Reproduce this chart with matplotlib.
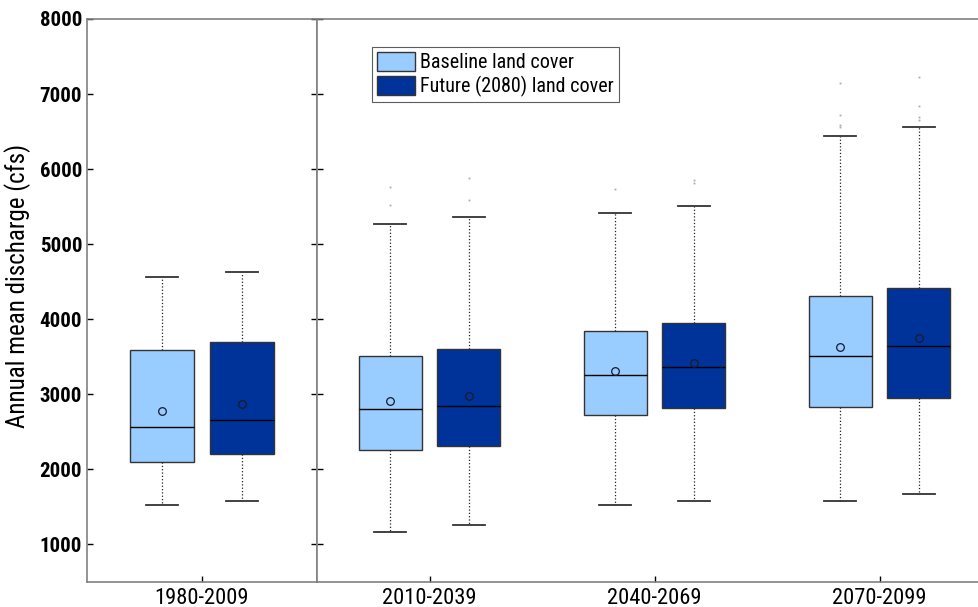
import matplotlib.pyplot as plt
from matplotlib import font_manager
from matplotlib.patches import Patch

# annual mean discharge (cfs) box statistics per 30-year period
periods = ['1980-2009', '2010-2039', '2040-2069', '2070-2099']

base_lo = [1520, 1170, 1520, 1575]
base_q1 = [2105, 2255, 2720, 2825]
base_med = [2570, 2805, 3260, 3515]
base_q3 = [3585, 3510, 3840, 4305]
base_hi = [4560, 5275, 5420, 6440]
base_mean = [2775, 2905, 3305, 3630]
base_out = [[], [5520, 5760], [5740], [6560, 6585, 6720, 7145]]

fut_lo = [1580, 1255, 1580, 1675]
fut_q1 = [2205, 2315, 2815, 2955]
fut_med = [2660, 2850, 3365, 3650]
fut_q3 = [3700, 3605, 3945, 4410]
fut_hi = [4635, 5365, 5505, 6555]
fut_mean = [2870, 2980, 3415, 3750]
fut_out = [[], [5590, 5880], [5820, 5855], [6655, 6690, 6845, 7225]]

light = '#99ccff'
dark = '#003399'

# prefer a narrow sans if one is installed
fonts = font_manager.fontManager.ttflist
names = {f.name for f in fonts}
narrow = None
for n in ['Roboto Condensed', 'Liberation Sans Narrow', 'Noto Sans Condensed',
          'Open Sans Condensed', 'DejaVu Sans Condensed']:
    if n in names:
        narrow = n
        break
if narrow is None:
    cond = [f for f in fonts if f.stretch in ('condensed', 'semi-condensed')
            and f.name in ('Noto Sans', 'Roboto', 'Open Sans', 'DejaVu Sans')]
    if cond:
        narrow = cond[0].name
        plt.rcParams['font.stretch'] = 'condensed'
    else:
        narrow = 'Roboto'
plt.rcParams['font.family'] = [narrow, 'DejaVu Sans']


def stats(i, lo, q1, med, q3, hi, mean, out):
    return dict(whislo=lo[i], q1=q1[i], med=med[i], q3=q3[i], whishi=hi[i],
                mean=mean[i], fliers=out[i])


def draw(ax, idx):
    pos = list(range(1, len(idx) + 1))
    for color, off, series in [
            (light, -0.175, (base_lo, base_q1, base_med, base_q3, base_hi, base_mean, base_out)),
            (dark, 0.175, (fut_lo, fut_q1, fut_med, fut_q3, fut_hi, fut_mean, fut_out))]:
        bs = [stats(i, *series) for i in idx]
        ax.bxp(bs, positions=[p + off for p in pos], widths=0.28, capwidths=0.14,
               patch_artist=True, showmeans=True, showfliers=True,
               boxprops=dict(facecolor=color, edgecolor='#333333', linewidth=1.0),
               medianprops=dict(color='black', linewidth=1.0),
               whiskerprops=dict(color='#222222', linestyle=':', linewidth=0.9),
               capprops=dict(color='#333333', linewidth=1.3),
               meanprops=dict(marker='o', markerfacecolor='none', markeredgecolor='#1a1a2e',
                              markersize=5.5, markeredgewidth=0.9),
               flierprops=dict(marker='s', markersize=1.3, markerfacecolor='#aaaaaa',
                               markeredgecolor='none'))
    ax.set_xticks(pos)
    ax.set_xticklabels([periods[i] for i in idx], fontsize=16.2)
    ax.set_xlim(0.5, len(idx) + 0.5)
    ax.set_ylim(500, 8000)
    ax.set_yticks(range(1000, 8001, 1000))
    ax.tick_params(direction='in', length=4.5, width=1, color='black')
    ax.tick_params(axis='x', pad=4)
    for s in ax.spines.values():
        s.set_color('#808080')
        s.set_linewidth(1.2)


fig = plt.figure(figsize=(9.79, 6.07), dpi=100)
ax1 = fig.add_axes([87 / 979, 25 / 607, 230 / 979, 563 / 607])
ax2 = fig.add_axes([317 / 979, 25 / 607, 675 / 979, 563 / 607])

draw(ax1, [0])
draw(ax2, [1, 2, 3])

ax1.tick_params(axis='y', right=True, pad=3.5)
for lab in ax1.get_yticklabels():
    lab.set_fontweight('bold')
    lab.set_fontsize(15)
ax2.tick_params(axis='y', labelleft=False)

ax1.set_ylabel('Annual mean discharge (cfs)', fontsize=18)
ax1.yaxis.set_label_coords(-0.245, 0.525)

handles = [Patch(facecolor=light, edgecolor='#333333', label='Baseline land cover'),
           Patch(facecolor=dark, edgecolor='#333333', label='Future (2080) land cover')]
leg = ax2.legend(handles=handles, loc='upper left', bbox_to_anchor=(372 / 979, 1 - 47 / 607),
                 bbox_transform=fig.transFigure, fontsize=14.5, frameon=True, fancybox=False,
                 handlelength=1.9, handleheight=1.05, handletextpad=0.25, labelspacing=0.2,
                 borderpad=0.25, borderaxespad=0)
leg.get_frame().set_edgecolor('#333333')
leg.get_frame().set_linewidth(0.8)

fig.savefig('out.png', dpi=100)
